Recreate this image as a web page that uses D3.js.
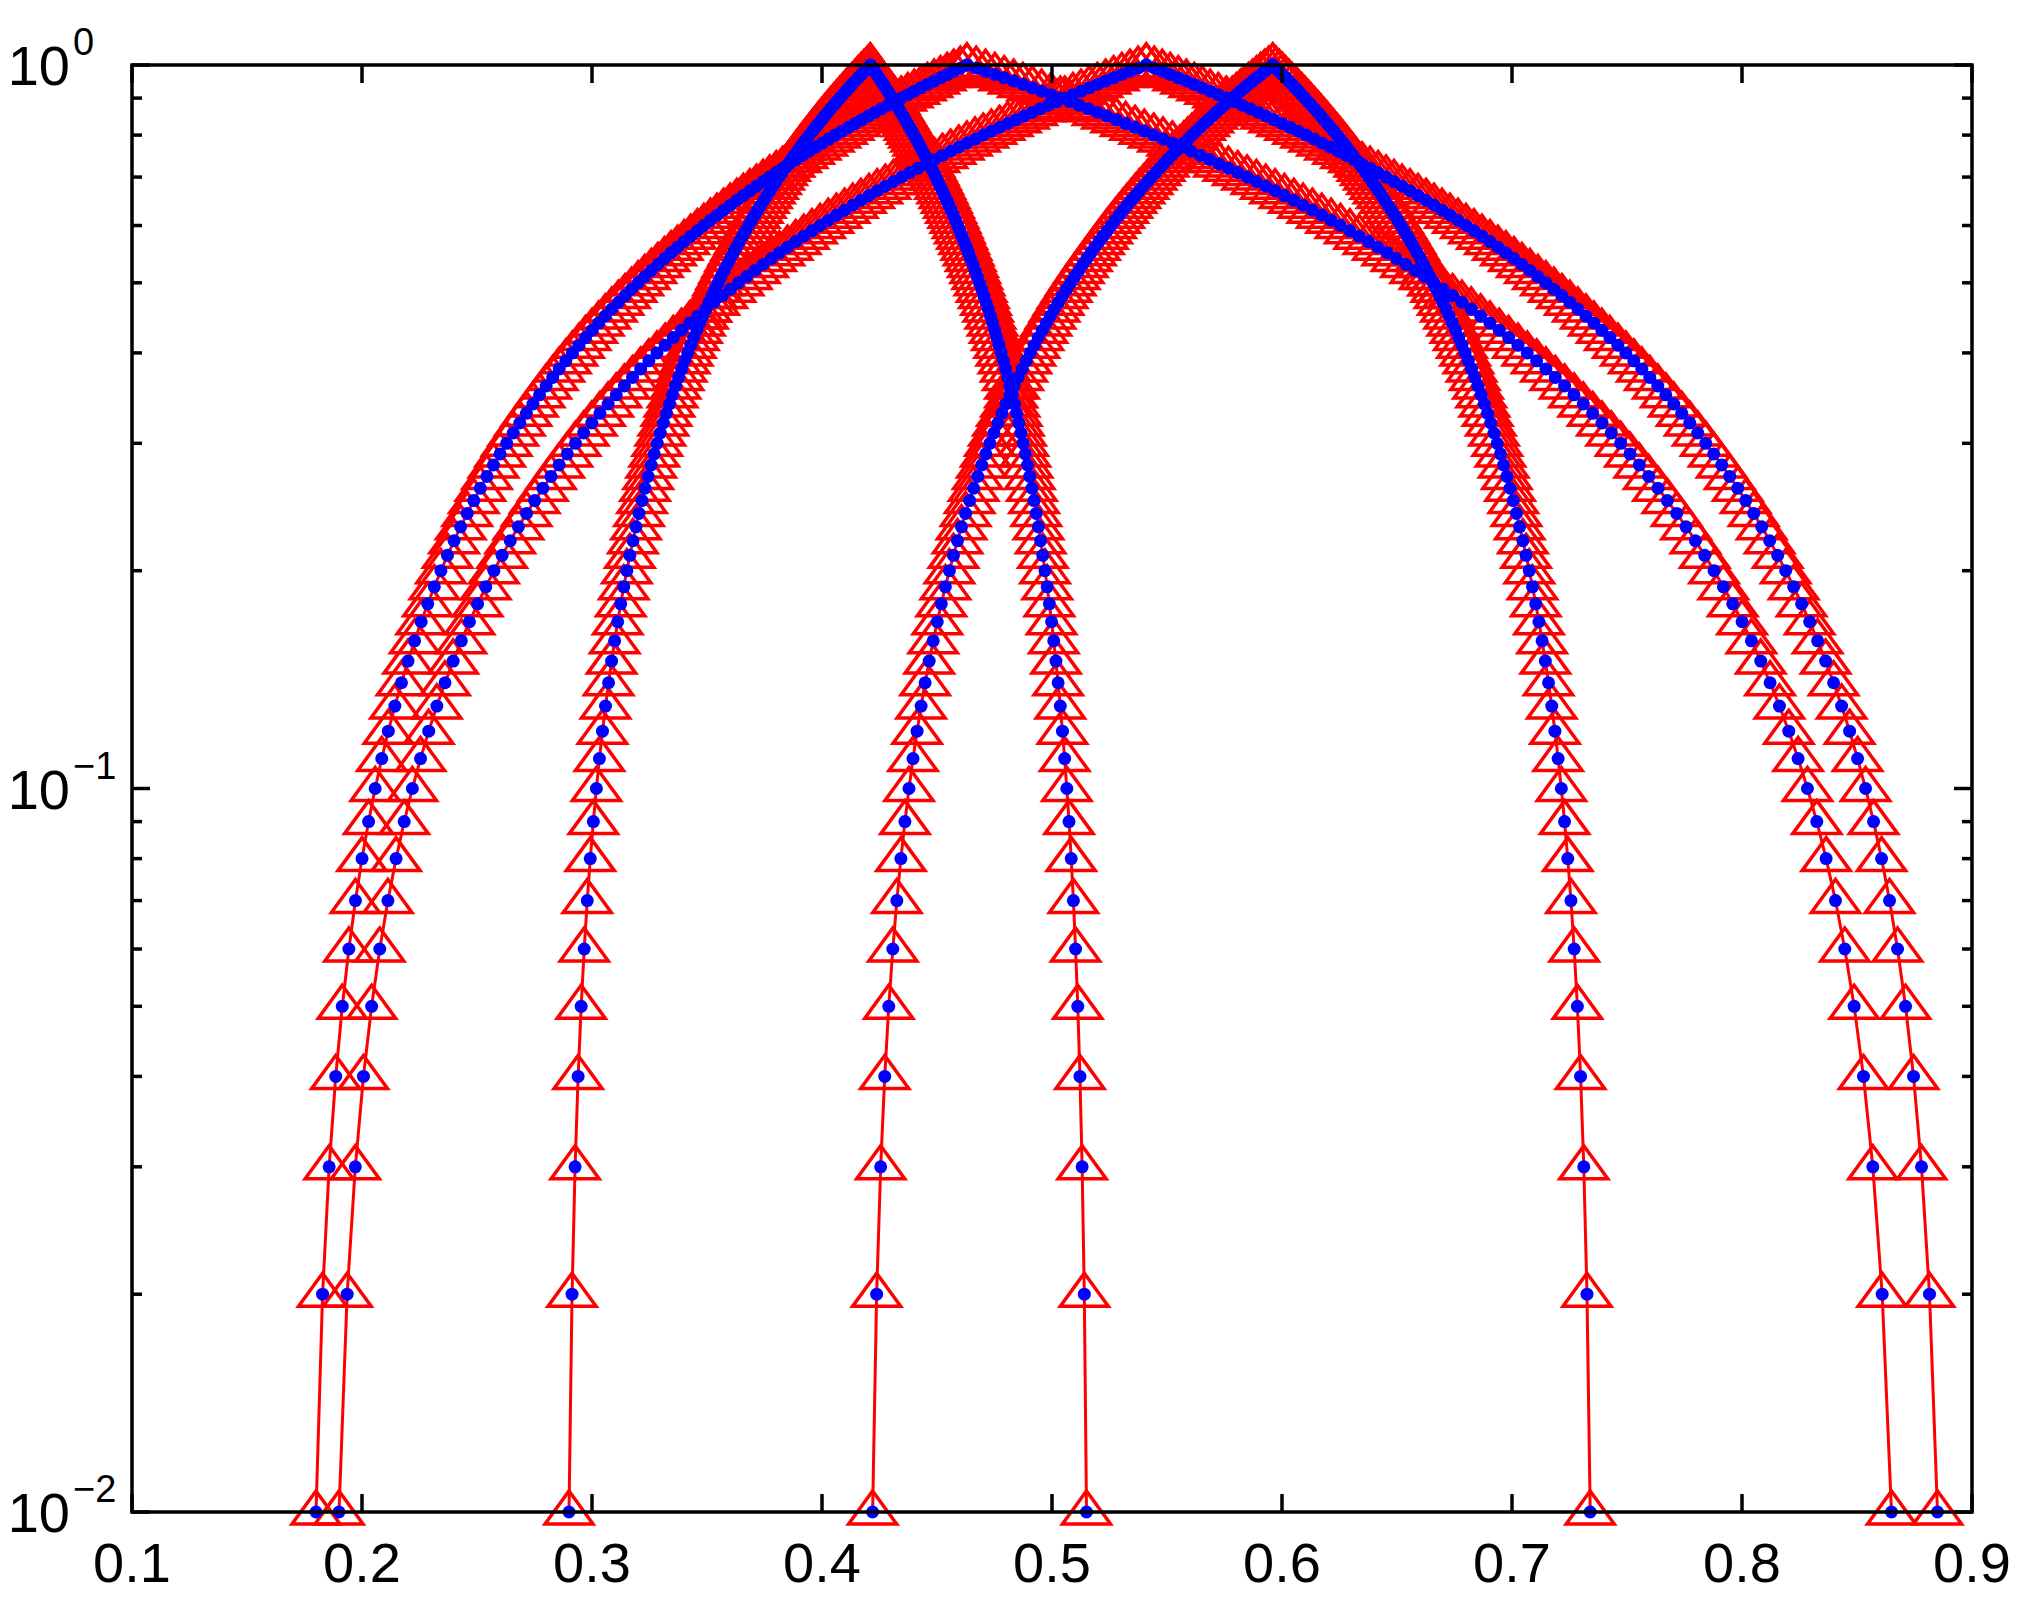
<!DOCTYPE html>
<html><head><meta charset="utf-8">
<script src="https://cdn.jsdelivr.net/npm/d3@7"></script>
<style>body{margin:0;background:#fff}</style></head>
<body><svg id="c" width="2033" height="1603"></svg>
<script>
// y levels 0.01 .. 1.00
const yLevels = [0.01,0.02,0.03,0.04,0.05,0.06,0.07,0.08,0.09,0.10,
0.11,0.12,0.13,0.14,0.15,0.16,0.17,0.18,0.19,0.20,
0.21,0.22,0.23,0.24,0.25,0.26,0.27,0.28,0.29,0.30,
0.31,0.32,0.33,0.34,0.35,0.36,0.37,0.38,0.39,0.40,
0.41,0.42,0.43,0.44,0.45,0.46,0.47,0.48,0.49,0.50,
0.51,0.52,0.53,0.54,0.55,0.56,0.57,0.58,0.59,0.60,
0.61,0.62,0.63,0.64,0.65,0.66,0.67,0.68,0.69,0.70,
0.71,0.72,0.73,0.74,0.75,0.76,0.77,0.78,0.79,0.80,
0.81,0.82,0.83,0.84,0.85,0.86,0.87,0.88,0.89,0.90,
0.91,0.92,0.93,0.94,0.95,0.96,0.97,0.98,0.99,1.00];
const profile = [0.99,0.98,0.97,0.96,0.95,0.94,0.93,0.92,0.91,0.90,
0.89,0.88,0.87,0.86,0.85,0.84,0.83,0.82,0.81,0.80,
0.79,0.78,0.77,0.76,0.75,0.74,0.73,0.72,0.71,0.70,
0.69,0.68,0.67,0.66,0.65,0.64,0.63,0.62,0.61,0.60,
0.59,0.58,0.57,0.56,0.55,0.54,0.53,0.52,0.51,0.50,
0.49,0.48,0.47,0.46,0.45,0.44,0.43,0.42,0.41,0.40,
0.39,0.38,0.37,0.36,0.35,0.34,0.33,0.32,0.31,0.30,
0.29,0.28,0.27,0.26,0.25,0.24,0.23,0.22,0.21,0.20,
0.19,0.18,0.17,0.16,0.15,0.14,0.13,0.12,0.11,0.10,
0.09,0.08,0.07,0.06,0.05,0.04,0.03,0.02,0.01,0];
const peaks      = [0.421,0.463,0.541,0.596];
const leftFoot   = [0.290,0.180,0.190,0.422];
const rightFoot  = [0.515,0.865,0.885,0.734];
const xTicks = [0.1,0.2,0.3,0.4,0.5,0.6,0.7,0.8,0.9];
const yTicks = [0.01,0.1,1];
const yTickExp = ["-2","-1","0"];

const svg=d3.select("#c");
const L=132,R=1972,T=65,B=1512;
const x=d3.scaleLinear().domain([0.1,0.9]).range([L,R]);
const y=d3.scaleLog().domain([0.01,1]).range([B,T]);
const g=svg.append("g");

const branches=[];
peaks.forEach((p,i)=>{
  const f0=profile[0];
  [leftFoot[i],rightFoot[i]].forEach(foot=>{
    branches.push(yLevels.map((v,j)=>({x:p+(foot-p)*profile[j]/f0,y:v})));
  });
});
const line=d3.line().x(d=>x(d.x)).y(d=>y(d.y));
const tri="M0,-21L24,12L-24,12Z";
branches.forEach(b=>{
  g.append("path").attr("d",line(b)).attr("fill","none").attr("stroke","#ff0000").attr("stroke-width",3);
});
branches.forEach(b=>{
  g.selectAll(null).data(b).enter().append("path").attr("d",tri)
   .attr("transform",d=>`translate(${x(d.x)},${y(d.y)})`)
   .attr("fill","none").attr("stroke","#ff0000").attr("stroke-width",3.5);
});
branches.forEach(b=>{
  g.selectAll(null).data(b).enter().append("circle")
   .attr("cx",d=>x(d.x)).attr("cy",d=>y(d.y)).attr("r",6.5).attr("fill","#0000ff");
});

const ax=svg.append("g").attr("stroke","#000").attr("stroke-width",3.5);
ax.append("rect").attr("x",L).attr("y",T).attr("width",R-L).attr("height",B-T).attr("fill","none");
xTicks.forEach(t=>{
  ax.append("line").attr("x1",x(t)).attr("x2",x(t)).attr("y1",B).attr("y2",B-18);
  ax.append("line").attr("x1",x(t)).attr("x2",x(t)).attr("y1",T).attr("y2",T+18);
});
const minors=[];
[0.01,0.1].forEach(d=>{for(let k=1;k<10;k++)minors.push({v:d*k,major:k===1});});
minors.push({v:1,major:true});
minors.forEach(t=>{
  const len=t.major?18:10;
  ax.append("line").attr("x1",L).attr("x2",L+len).attr("y1",y(t.v)).attr("y2",y(t.v));
  ax.append("line").attr("x1",R).attr("x2",R-len).attr("y1",y(t.v)).attr("y2",y(t.v));
});
const font="Liberation Sans, Arial, sans-serif";
xTicks.forEach(t=>{
  svg.append("text").attr("x",x(t)).attr("y",B+70).attr("text-anchor","middle")
   .attr("font-family",font).attr("font-size",56).text(String(t));
});
yTicks.forEach((t,i)=>{
  svg.append("text").attr("x",70).attr("y",y(t)+20).attr("text-anchor","end")
   .attr("font-family",font).attr("font-size",56).text("10");
  svg.append("text").attr("x",73).attr("y",y(t)-10).attr("text-anchor","start")
   .attr("font-family",font).attr("font-size",38).text(yTickExp[i].replace("-","\u2212"));
});
</script></body></html>
